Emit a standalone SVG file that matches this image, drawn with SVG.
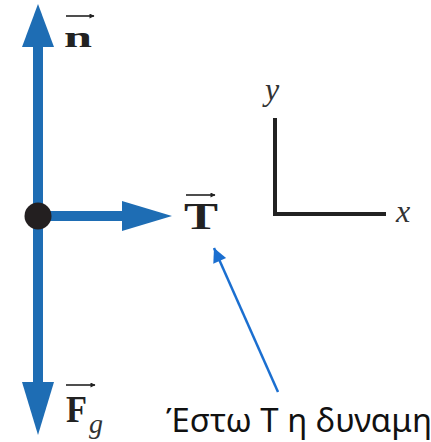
<svg xmlns="http://www.w3.org/2000/svg" width="431" height="442" viewBox="0 0 431 442">
<defs>
<style>
.force{fill:#1e6db4;}
.vec{stroke:#222;stroke-width:1.6;fill:none;}
.lbl{font-family:"Liberation Serif","DejaVu Serif",serif;font-weight:bold;fill:#222;}
.it{font-family:"Liberation Serif","DejaVu Serif",serif;font-style:italic;fill:#333;}
.axis{stroke:#222;stroke-width:4;fill:none;}
.note{font-family:"Noto Sans","Open Sans",sans-serif;fill:#111;}
</style>
<marker id="ah" viewBox="0 0 10 10" refX="9" refY="5" markerWidth="6" markerHeight="5" orient="auto" markerUnits="userSpaceOnUse">
<path d="M0,0 L10,5 L0,10 z" fill="#222"/>
</marker>
<marker id="bh" viewBox="0 0 10 10" refX="10" refY="5" markerWidth="18" markerHeight="14" orient="auto" markerUnits="userSpaceOnUse">
<path d="M0,0 L10,5 L0,10 z" fill="#1b6fd0"/>
</marker>
</defs>
<rect width="431" height="442" fill="#fff"/>
<g id="connectors">
<rect class="force" x="33" y="44" width="10" height="341"/>
<polygon class="force" points="38,4 22,47 54,47"/>
<polygon class="force" points="38,435 22,382 54,382"/>
<rect class="force" x="40" y="211" width="86" height="10"/>
<polygon class="force" points="172,216 122,201 122,231"/>
<line x1="278" y1="392" x2="214" y2="248" stroke="#1b6fd0" stroke-width="2.5" marker-end="url(#bh)"/>
</g>
<g id="body">
<circle cx="38" cy="216" r="13.5" fill="#231f20"/>
</g>
<g id="label-n">
<line class="vec" x1="66" y1="16" x2="94" y2="16" marker-end="url(#ah)"/>
<text class="lbl" x="64" y="47" font-size="30" textLength="28" lengthAdjust="spacingAndGlyphs">n</text>
</g>
<g id="label-T">
<line class="vec" x1="186" y1="195" x2="215" y2="195" marker-end="url(#ah)"/>
<text class="lbl" x="184" y="229" font-size="37" textLength="34" lengthAdjust="spacingAndGlyphs">T</text>
</g>
<g id="label-Fg">
<line class="vec" x1="66" y1="385" x2="95" y2="385" marker-end="url(#ah)"/>
<text class="lbl" x="66" y="422" font-size="37" textLength="21" lengthAdjust="spacingAndGlyphs">F</text>
<text class="it" x="89" y="433" font-size="28">g</text>
</g>
<g id="axes">
<path class="axis" d="M275,118 V214 H386"/>
<text class="it" x="265" y="100" font-size="32">y</text>
<text class="it" x="396" y="222" font-size="32">x</text>
</g>
<g id="note">
<text class="note" x="166" y="432" font-size="32" textLength="266" lengthAdjust="spacingAndGlyphs">Έστω Τ η δυναμη</text>
</g>
</svg>
